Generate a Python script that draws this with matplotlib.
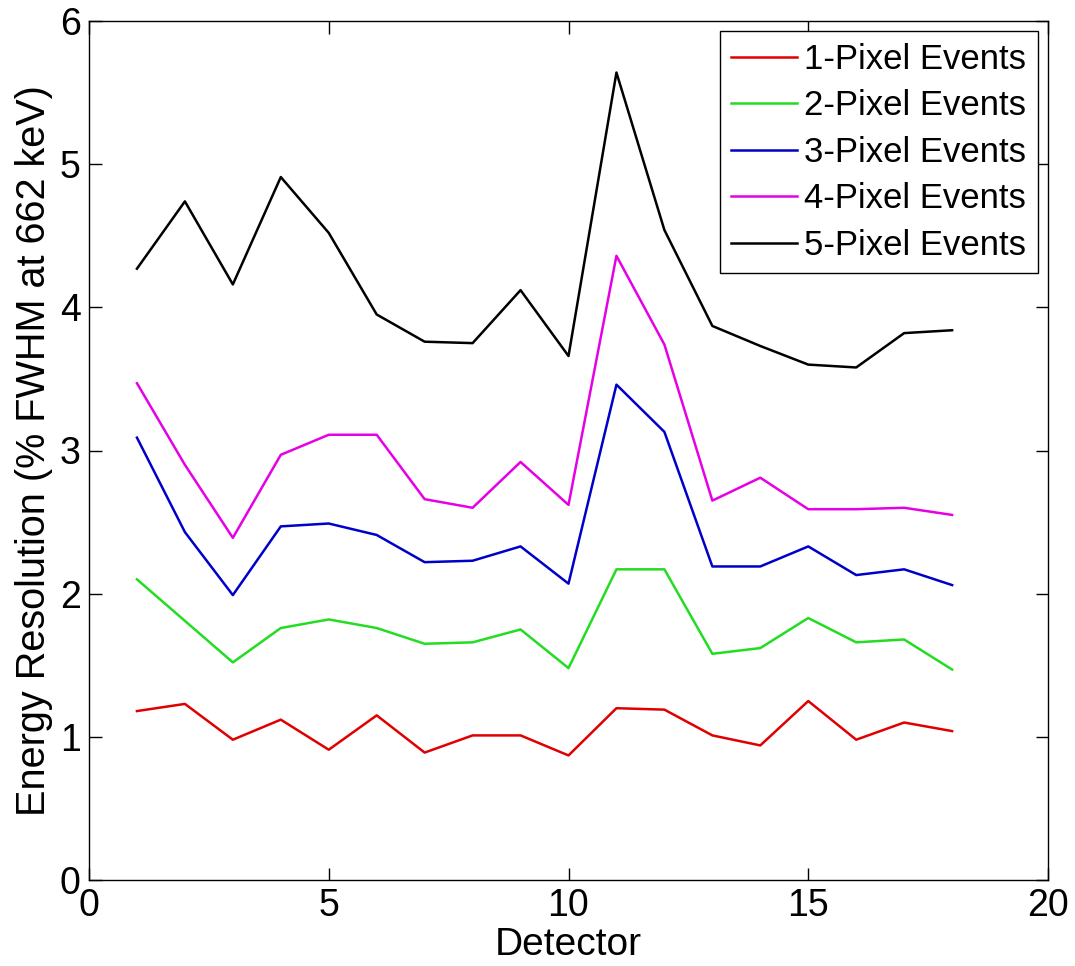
import matplotlib
matplotlib.use("Agg")
import matplotlib.pyplot as plt

plt.rcParams['font.family'] = ['Liberation Sans', 'DejaVu Sans']

detectors = list(range(1, 19))

one_pixel = [1.18, 1.23, 0.98, 1.12, 0.91, 1.15, 0.89, 1.01, 1.01, 0.87,
             1.20, 1.19, 1.01, 0.94, 1.25, 0.98, 1.10, 1.04]
two_pixel = [2.10, 1.81, 1.52, 1.76, 1.82, 1.76, 1.65, 1.66, 1.75, 1.48,
             2.17, 2.17, 1.58, 1.62, 1.83, 1.66, 1.68, 1.47]
three_pixel = [3.09, 2.43, 1.99, 2.47, 2.49, 2.41, 2.22, 2.23, 2.33, 2.07,
               3.46, 3.13, 2.19, 2.19, 2.33, 2.13, 2.17, 2.06]
four_pixel = [3.47, 2.90, 2.39, 2.97, 3.11, 3.11, 2.66, 2.60, 2.92, 2.62,
              4.36, 3.74, 2.65, 2.81, 2.59, 2.59, 2.60, 2.55]
five_pixel = [4.27, 4.74, 4.16, 4.91, 4.52, 3.95, 3.76, 3.75, 4.12, 3.66,
              5.64, 4.54, 3.87, 3.73, 3.60, 3.58, 3.82, 3.84]

series_labels = ['1-Pixel Events', '2-Pixel Events', '3-Pixel Events',
                 '4-Pixel Events', '5-Pixel Events']
series_colors = ['#e00000', '#22dd22', '#0000c8', '#e600e6', '#000000']

x_ticks = [0, 5, 10, 15, 20]
y_ticks = [0, 1, 2, 3, 4, 5, 6]

fig = plt.figure(figsize=(10.75, 9.66), dpi=100)
ax = fig.add_axes([89 / 1075, 1 - 880 / 966, (1048 - 89) / 1075, (880 - 21) / 966])

for vals, lab, col in zip([one_pixel, two_pixel, three_pixel, four_pixel, five_pixel],
                          series_labels, series_colors):
    ax.plot(detectors, vals, color=col, linewidth=1.8, label=lab)

ax.set_xlim(0, 20)
ax.set_ylim(0, 6)
ax.set_xticks(x_ticks)
ax.set_yticks(y_ticks)
ax.tick_params(direction='in', length=9, width=1.0, top=True, right=True,
               labelsize=27, pad=6)
for sp in ax.spines.values():
    sp.set_linewidth(1.0)

ax.set_xlabel('Detector', fontsize=28, labelpad=2)
ax.set_ylabel('Energy Resolution (% FWHM at 662 keV)', fontsize=28.5, labelpad=5)

leg = ax.legend(loc='upper right', fontsize=25, frameon=True, fancybox=False,
                edgecolor='black', framealpha=1, borderaxespad=0.3,
                handlelength=1.9, handletextpad=0.2, labelspacing=0.39,
                borderpad=0.33)
leg.get_frame().set_linewidth(1.0)

fig.savefig('out.png', dpi=100)
